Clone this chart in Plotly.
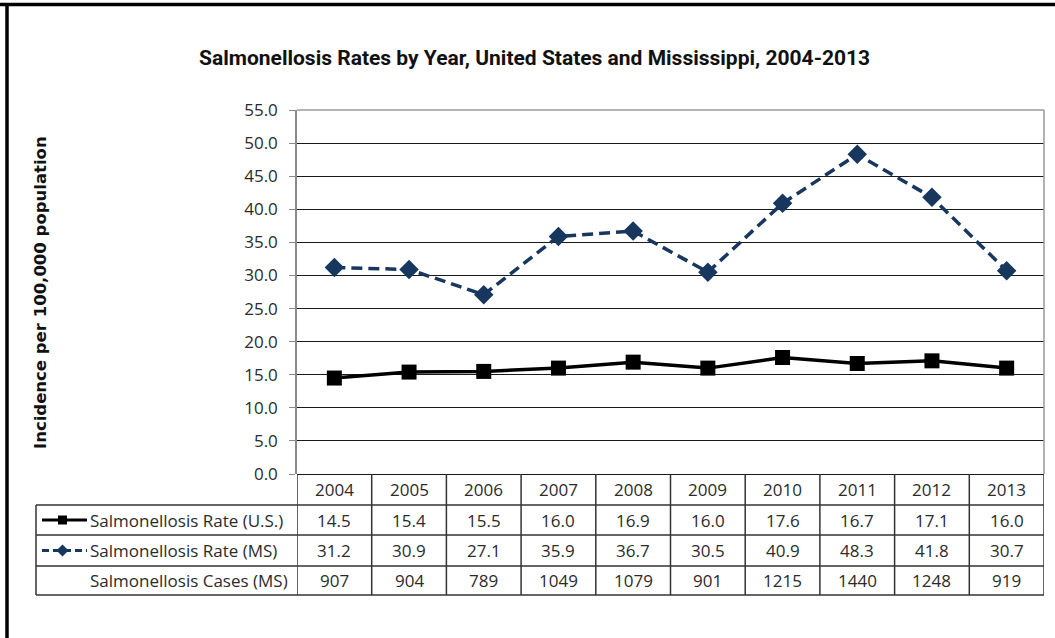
import plotly.graph_objects as go

# ---- data ----
years = ["2004", "2005", "2006", "2007", "2008", "2009", "2010", "2011", "2012", "2013"]
rate_us = [14.5, 15.4, 15.5, 16.0, 16.9, 16.0, 17.6, 16.7, 17.1, 16.0]
rate_ms = [31.2, 30.9, 27.1, 35.9, 36.7, 30.5, 40.9, 48.3, 41.8, 30.7]
cases_ms = [907, 904, 789, 1049, 1079, 901, 1215, 1440, 1248, 919]
row_labels = ["Salmonellosis Rate (U.S.)", "Salmonellosis Rate (MS)", "Salmonellosis Cases (MS)"]
y_ticks = [0, 5, 10, 15, 20, 25, 30, 35, 40, 45, 50, 55]

# ---- layout geometry (pixels) ----
W, H = 1055, 638
PL, PR, PT, PB = 297, 1044, 110, 474   # plot area box
TABLE_LEFT = 36
ROW_EDGES = [474, 505, 535, 566, 595]  # header row + three data rows

NAVY = "#17375E"
LINE = "#333333"
TXT = "#2b2b2b"
BODY = "Open Sans, DejaVu Sans, sans-serif"
FS = 17


def px_x(px):
    return (px - PL) / (PR - PL)


def px_y(py):
    return (PB - py) / (PB - PT)


fig = go.Figure()

fig.add_trace(go.Scatter(
    x=years, y=rate_us, mode="lines+markers", name=row_labels[0],
    line=dict(color="#000000", width=3.5),
    marker=dict(symbol="square", size=15, color="#000000"),
    showlegend=False,
))
fig.add_trace(go.Scatter(
    x=years, y=rate_ms, mode="lines+markers", name=row_labels[1],
    line=dict(color=NAVY, width=3.5, dash="11px,6px"),
    marker=dict(symbol="diamond", size=15, color=NAVY),
    showlegend=False,
))

shapes = []
annotations = []

# outer frame (top and left edges)
shapes.append(dict(type="line", xref="paper", yref="paper",
                   x0=px_x(0), x1=px_x(W), y0=px_y(4.5), y1=px_y(4.5),
                   line=dict(color="#000000", width=3.5)))
shapes.append(dict(type="line", xref="paper", yref="paper",
                   x0=px_x(7), x1=px_x(7), y0=px_y(3), y1=px_y(H),
                   line=dict(color="#000000", width=3.5)))

# plot area top / right border
shapes.append(dict(type="line", xref="paper", yref="paper",
                   x0=0, x1=1, y0=1, y1=1, line=dict(color="#9a9a9a", width=1.5)))
shapes.append(dict(type="line", xref="paper", yref="paper",
                   x0=1, x1=1, y0=1, y1=0, line=dict(color="#9a9a9a", width=1.5)))

# data table: column separators follow the category axis
y_bottom = px_y(ROW_EDGES[-1])
for i in range(len(years) + 1):
    shapes.append(dict(type="line", xref="x", yref="paper",
                       x0=i - 0.5, x1=i - 0.5, y0=0, y1=y_bottom,
                       line=dict(color=LINE, width=1.5)))
# row separators and left edge of label column
for py in ROW_EDGES[1:]:
    shapes.append(dict(type="line", xref="paper", yref="paper",
                       x0=px_x(TABLE_LEFT), x1=1, y0=px_y(py), y1=px_y(py),
                       line=dict(color=LINE, width=1.5)))
shapes.append(dict(type="line", xref="paper", yref="paper",
                   x0=px_x(TABLE_LEFT), x1=px_x(TABLE_LEFT),
                   y0=px_y(ROW_EDGES[1]), y1=y_bottom,
                   line=dict(color=LINE, width=1.5)))

row_centers = [(ROW_EDGES[k] + ROW_EDGES[k + 1]) / 2 for k in range(4)]

# header row: years (category index positions on the x axis)
for i, yr in enumerate(years):
    annotations.append(dict(x=i, y=px_y(row_centers[0]), xref="x", yref="paper",
                            text=yr, showarrow=False, xanchor="center", yanchor="middle",
                            font=dict(family=BODY, size=FS, color=TXT)))

# value rows
rows = [
    [f"{v:.1f}" for v in rate_us],
    [f"{v:.1f}" for v in rate_ms],
    [str(v) for v in cases_ms],
]
for k, vals in enumerate(rows):
    cy = px_y(row_centers[k + 1])
    for i, t in enumerate(vals):
        annotations.append(dict(x=i, y=cy, xref="x", yref="paper",
                                text=t, showarrow=False, xanchor="center", yanchor="middle",
                                font=dict(family=BODY, size=FS, color=TXT)))
    annotations.append(dict(x=px_x(88), y=cy, xref="paper", yref="paper",
                            text=row_labels[k], showarrow=False,
                            xanchor="left", yanchor="middle",
                            font=dict(family=BODY, size=FS, color=TXT)))

# legend keys inside the label column
ky_us = px_y(row_centers[1])
ky_ms = px_y(row_centers[2])
shapes.append(dict(type="line", xref="paper", yref="paper",
                   x0=px_x(42), x1=px_x(87), y0=ky_us, y1=ky_us,
                   line=dict(color="#000000", width=3)))
shapes.append(dict(type="rect", xref="paper", yref="paper",
                   x0=px_x(58), x1=px_x(67), y0=px_y(row_centers[1] - 4.5),
                   y1=px_y(row_centers[1] + 4.5),
                   fillcolor="#000000", line=dict(width=0)))
shapes.append(dict(type="line", xref="paper", yref="paper",
                   x0=px_x(42), x1=px_x(87), y0=ky_ms, y1=ky_ms,
                   line=dict(color=NAVY, width=3, dash="7px,4px")))
cx, cyp = 62.5, row_centers[2]
diamond = (f"M {px_x(cx - 6)},{px_y(cyp)} L {px_x(cx)},{px_y(cyp - 6)} "
           f"L {px_x(cx + 6)},{px_y(cyp)} L {px_x(cx)},{px_y(cyp + 6)} Z")
shapes.append(dict(type="path", xref="paper", yref="paper", path=diamond,
                   fillcolor=NAVY, line=dict(width=0)))

# chart title
annotations.append(dict(x=px_x(534), y=px_y(58), xref="paper", yref="paper",
                        text="<b>Salmonellosis Rates by Year, United States and Mississippi, 2004-2013</b>",
                        showarrow=False, xanchor="center", yanchor="middle",
                        font=dict(family="Roboto, sans-serif", size=21, color="#111111")))

# y axis title near the left frame
annotations.append(dict(x=px_x(40), y=px_y(293), xref="paper", yref="paper",
                        text="<b>Incidence per 100,000 population</b>", textangle=-90,
                        showarrow=False, xanchor="center", yanchor="middle",
                        font=dict(family="DejaVu Sans, sans-serif", size=16.5, color="#111111")))

fig.update_layout(
    width=W, height=H,
    margin=dict(l=PL, r=W - PR, t=PT, b=H - PB),
    paper_bgcolor="white", plot_bgcolor="white",
    shapes=shapes, annotations=annotations,
    xaxis=dict(type="category", range=[-0.5, len(years) - 0.5],
               showgrid=False, showticklabels=False, showline=False,
               zeroline=False, ticks=""),
    yaxis=dict(range=[0, 55], tickvals=y_ticks,
               ticktext=[f"{v:.1f}" for v in y_ticks],
               showgrid=True, gridcolor="#1a1a1a", gridwidth=1.2,
               zeroline=True, zerolinecolor="#1a1a1a", zerolinewidth=1.4,
               showline=True, linecolor="#8a8a8a", linewidth=1.5,
               ticks="outside", ticklen=6, tickcolor="#8a8a8a",
               ticklabelstandoff=8,
               tickfont=dict(family=BODY, size=FS, color=TXT)),
)

fig.write_html("out.html")
